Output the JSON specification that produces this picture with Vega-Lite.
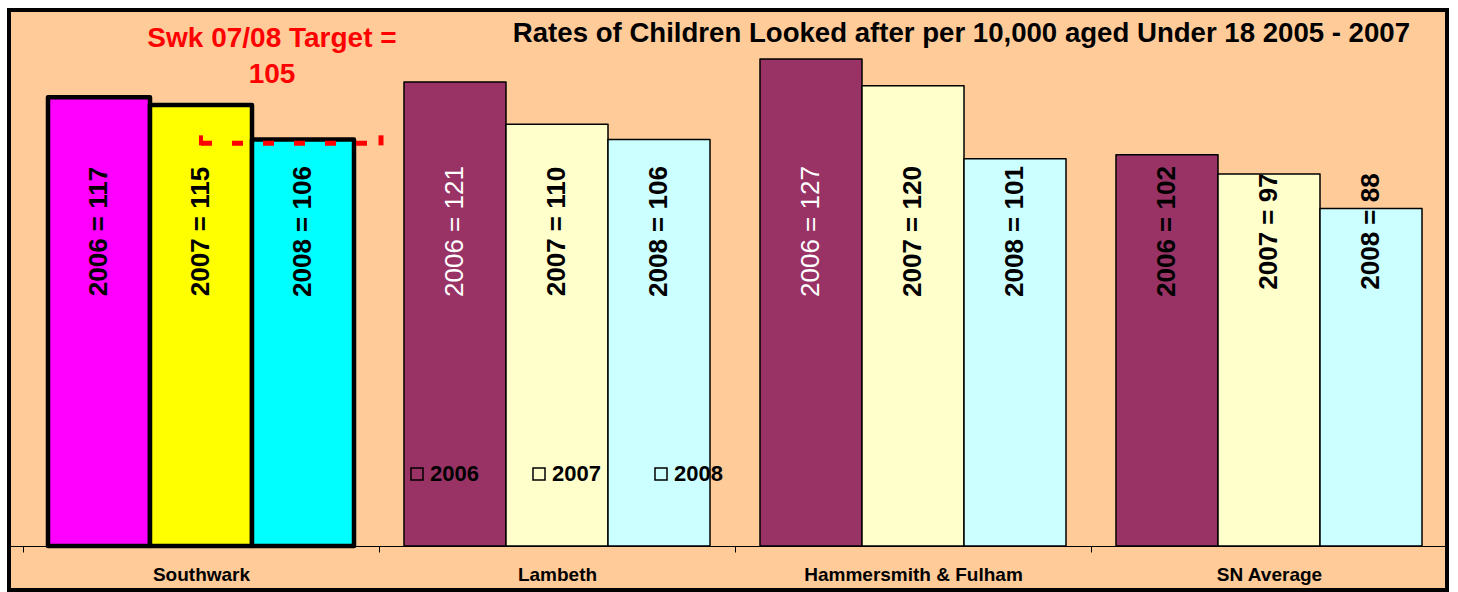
{
  "$schema": "https://vega.github.io/schema/vega-lite/v6.json",
  "width": 1438,
  "height": 580,
  "autosize": {"type": "none"},
  "padding": {"left": 9, "top": 10, "right": 11, "bottom": 2},
  "background": "white",
  "config": {
    "view": {"fill": "#FFCC99", "stroke": "black", "strokeWidth": 4},
    "font": "Liberation Sans"
  },
  "title": {
    "text": "Rates of Children Looked after per 10,000 aged Under 18 2005 - 2007",
    "anchor": "end",
    "frame": "group",
    "orient": "top",
    "offset": 0,
    "dx": -37,
    "dy": 60,
    "baseline": "alphabetic",
    "font": "Liberation Sans",
    "fontSize": 27.6,
    "fontWeight": "bold",
    "color": "black"
  },
  "datasets": {
    "bars": [
      {"region": "Southwark", "year": "2006", "value": 117, "label": "2006 = 117"},
      {"region": "Southwark", "year": "2007", "value": 115, "label": "2007 = 115"},
      {"region": "Southwark", "year": "2008", "value": 106, "label": "2008 = 106"},
      {"region": "Lambeth", "year": "2006", "value": 121, "label": "2006 = 121"},
      {"region": "Lambeth", "year": "2007", "value": 110, "label": "2007 = 110"},
      {"region": "Lambeth", "year": "2008", "value": 106, "label": "2008 = 106"},
      {"region": "Hammersmith & Fulham", "year": "2006", "value": 127, "label": "2006 = 127"},
      {"region": "Hammersmith & Fulham", "year": "2007", "value": 120, "label": "2007 = 120"},
      {"region": "Hammersmith & Fulham", "year": "2008", "value": 101, "label": "2008 = 101"},
      {"region": "SN Average", "year": "2006", "value": 102, "label": "2006 = 102"},
      {"region": "SN Average", "year": "2007", "value": 97, "label": "2007 = 97"},
      {"region": "SN Average", "year": "2008", "value": 88, "label": "2008 = 88"}
    ],
    "target": [{"region": "Southwark", "end": "Lambeth", "target": 105}],
    "note": [{"region": "Southwark", "note": "Swk 07/08 Target =\n105"}]
  },
  "layer": [
    {
      "data": {"name": "bars"},
      "mark": {"type": "bar", "stroke": "black", "strokeJoin": "round"},
      "encoding": {
        "x": {
          "field": "region", "type": "nominal", "title": null,
          "scale": {"domain": ["Southwark", "Lambeth", "Hammersmith & Fulham", "SN Average"], "paddingInner": 0, "paddingOuter": 0.01966, "align": 1},
          "axis": {
            "title": null, "orient": "bottom", "offset": -44, "tickBand": "extent",
            "domainColor": "black", "domainWidth": 1, "tickColor": "black", "tickWidth": 1, "tickSize": 6,
            "labelFont": "Liberation Sans", "labelFontSize": 19, "labelFontWeight": "bold", "labelColor": "black",
            "labelPadding": 28, "labelBaseline": "alphabetic", "labelAngle": 0, "labelLimit": 400, "grid": false
          }
        },
        "xOffset": {
          "field": "year", "type": "nominal",
          "scale": {"domain": ["2006", "2007", "2008"], "paddingInner": 0, "paddingOuter": 0.245}
        },
        "y": {
          "field": "value", "type": "quantitative", "title": null,
          "scale": {"domain": [-11.47, 139.77], "nice": false, "zero": false},
          "axis": null
        },
        "y2": {"datum": 0},
        "fill": {
          "field": "year", "type": "nominal",
          "scale": {"domain": ["2006", "2007", "2008"], "range": ["#993366", "#FFFFCC", "#CCFFFF"]},
          "condition": [
            {"test": "datum.region === 'Southwark' && datum.year === '2006'", "value": "#FF00FF"},
            {"test": "datum.region === 'Southwark' && datum.year === '2007'", "value": "#FFFF00"},
            {"test": "datum.region === 'Southwark' && datum.year === '2008'", "value": "#00FFFF"}
          ],
          "legend": {
            "title": null, "orient": "none", "legendX": 397, "legendY": 453, "direction": "horizontal",
            "symbolType": "square", "symbolSize": 144, "symbolStrokeWidth": 1.5, "symbolStrokeColor": "black",
            "labelFont": "Liberation Sans", "labelFontSize": 22, "labelFontWeight": "bold", "labelColor": "black",
            "labelOffset": 2, "columnPadding": 49, "padding": 0,
            "encode": {"symbols": {"update": {"fill": {"value": "transparent"}, "stroke": {"value": "black"}, "strokeWidth": {"value": 1.5}}}}
          }
        },
        "strokeWidth": {"condition": {"test": "datum.region === 'Southwark'", "value": 4.5}, "value": 1.5}
      }
    },
    {
      "data": {"name": "bars"},
      "transform": [{"filter": "!(datum.year === '2006' && (datum.region === 'Lambeth' || datum.region === 'Hammersmith & Fulham'))"}],
      "mark": {"type": "text", "angle": 270, "align": "center", "baseline": "middle", "font": "Liberation Sans", "fontSize": 26, "fontWeight": "bold", "color": "black"},
      "encoding": {
        "x": {"field": "region", "type": "nominal", "title": null, "scale": {"domain": ["Southwark", "Lambeth", "Hammersmith & Fulham", "SN Average"], "paddingInner": 0, "paddingOuter": 0.01966, "align": 1}},
        "xOffset": {"field": "year", "type": "nominal", "scale": {"domain": ["2006", "2007", "2008"], "paddingInner": 0, "paddingOuter": 0.245}},
        "y": {"datum": 82, "type": "quantitative", "scale": {"domain": [-11.47, 139.77], "nice": false, "zero": false}, "axis": null},
        "text": {"field": "label", "type": "nominal"}
      }
    },
    {
      "data": {"name": "bars"},
      "transform": [{"filter": "datum.year === '2006' && (datum.region === 'Lambeth' || datum.region === 'Hammersmith & Fulham')"}],
      "mark": {"type": "text", "angle": 270, "align": "center", "baseline": "middle", "font": "Liberation Sans", "fontSize": 26, "fontWeight": "normal", "color": "white"},
      "encoding": {
        "x": {"field": "region", "type": "nominal", "title": null, "scale": {"domain": ["Southwark", "Lambeth", "Hammersmith & Fulham", "SN Average"], "paddingInner": 0, "paddingOuter": 0.01966, "align": 1}},
        "xOffset": {"field": "year", "type": "nominal", "scale": {"domain": ["2006", "2007", "2008"], "paddingInner": 0, "paddingOuter": 0.245}},
        "y": {"datum": 82, "type": "quantitative", "scale": {"domain": [-11.47, 139.77], "nice": false, "zero": false}, "axis": null},
        "text": {"field": "label", "type": "nominal"}
      }
    },
    {
      "data": {"name": "target"},
      "mark": {"type": "rule", "color": "#FF0000", "strokeWidth": 5, "strokeDash": [11, 20], "strokeCap": "butt"},
      "encoding": {
        "x": {"field": "region", "type": "nominal", "title": null, "bandPosition": 0.5, "scale": {"domain": ["Southwark", "Lambeth", "Hammersmith & Fulham", "SN Average"], "paddingInner": 0, "paddingOuter": 0.01966, "align": 1}},
        "x2": {"field": "end", "bandPosition": 0},
        "y": {"field": "target", "type": "quantitative", "title": null, "scale": {"domain": [-11.47, 139.77], "nice": false, "zero": false}, "axis": null}
      }
    },
    {
      "data": {"name": "target"},
      "mark": {"type": "tick", "orient": "vertical", "color": "#FF0000", "thickness": 4, "size": 10, "yOffset": -3, "opacity": 1},
      "encoding": {
        "x": {"field": "region", "type": "nominal", "title": null, "bandPosition": 0.5, "scale": {"domain": ["Southwark", "Lambeth", "Hammersmith & Fulham", "SN Average"], "paddingInner": 0, "paddingOuter": 0.01966, "align": 1}},
        "y": {"field": "target", "type": "quantitative", "title": null, "scale": {"domain": [-11.47, 139.77], "nice": false, "zero": false}, "axis": null}
      }
    },
    {
      "data": {"name": "target"},
      "mark": {"type": "tick", "orient": "vertical", "color": "#FF0000", "thickness": 5, "size": 10, "yOffset": -3, "xOffset": 2, "opacity": 1},
      "encoding": {
        "x": {"field": "end", "type": "nominal", "title": null, "bandPosition": 0, "scale": {"domain": ["Southwark", "Lambeth", "Hammersmith & Fulham", "SN Average"], "paddingInner": 0, "paddingOuter": 0.01966, "align": 1}},
        "y": {"field": "target", "type": "quantitative", "title": null, "scale": {"domain": [-11.47, 139.77], "nice": false, "zero": false}, "axis": null}
      }
    },
    {
      "data": {"name": "note"},
      "mark": {"type": "text", "color": "#FF0000", "font": "Liberation Sans", "fontSize": 28, "fontWeight": "bold", "lineBreak": "\n", "lineHeight": 36, "align": "center", "baseline": "alphabetic", "dx": 71},
      "encoding": {
        "x": {"field": "region", "type": "nominal", "title": null, "scale": {"domain": ["Southwark", "Lambeth", "Hammersmith & Fulham", "SN Average"], "paddingInner": 0, "paddingOuter": 0.01966, "align": 1}},
        "y": {"datum": 130, "type": "quantitative", "scale": {"domain": [-11.47, 139.77], "nice": false, "zero": false}, "axis": null},
        "text": {"field": "note", "type": "nominal"}
      }
    }
  ]
}
